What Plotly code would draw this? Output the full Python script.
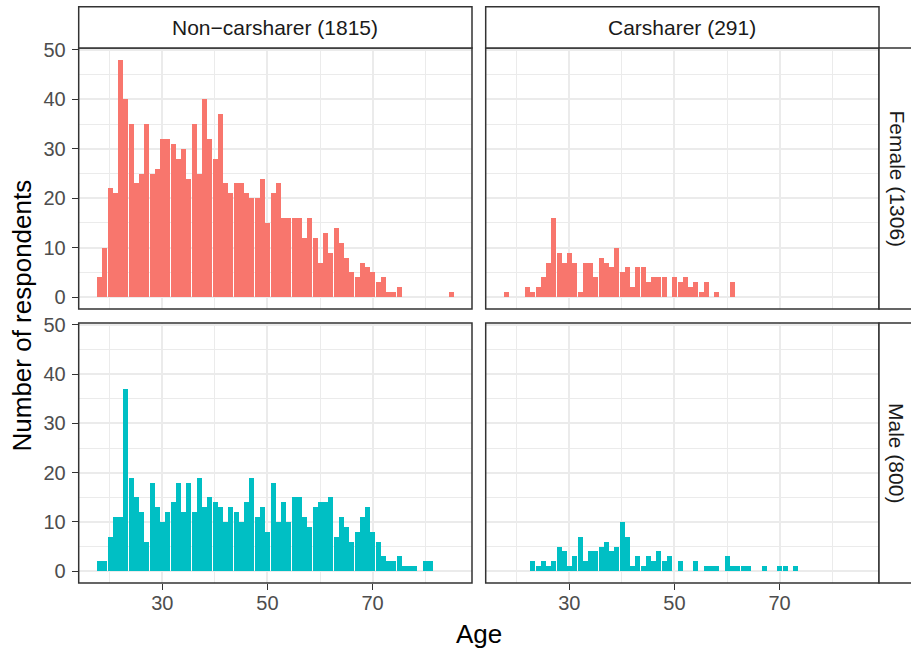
import plotly.graph_objects as go

W, H = 911, 652

# Age histograms (one-year bins): ages present and respondent counts
nc_female_age = [18, 19, 20, 21, 22, 23, 24, 25, 26, 27, 28, 29, 30, 31, 32, 33, 34, 35,
                 36, 37, 38, 39, 40, 41, 42, 43, 44, 45, 46, 47, 48, 49, 50, 51, 52, 53,
                 54, 55, 56, 57, 58, 59, 60, 61, 62, 63, 64, 65, 66, 67, 68, 69, 70, 71,
                 72, 73, 74, 75, 85]
nc_female_n = [4, 10, 22, 21, 48, 40, 35, 23, 25, 35, 25, 26, 32, 32, 31, 28, 30, 24,
               35, 25, 40, 32, 28, 37, 23, 21, 23, 23, 21, 20, 20, 24, 15, 21, 23, 16,
               16, 16, 16, 12, 16, 12, 7, 13, 9, 14, 11, 8, 5, 4, 7, 6, 5, 3,
               4, 1, 1, 2, 1]

cs_female_age = [18, 22, 23, 24, 25, 26, 27, 28, 29, 30, 31, 32, 33, 34, 35, 36, 37, 38,
                 39, 40, 41, 42, 43, 44, 45, 46, 47, 48, 50, 51, 52, 53, 54, 55, 56, 58, 61]
cs_female_n = [1, 2, 1, 2, 4, 7, 16, 9, 7, 9, 7, 1, 7, 7, 4, 8, 7, 6,
               10, 5, 6, 2, 6, 6, 3, 4, 4, 4, 4, 3, 4, 2, 3, 1, 3, 1, 3]

nc_male_age = [18, 19, 20, 21, 22, 23, 24, 25, 26, 27, 28, 29, 30, 31, 32, 33, 34, 35,
               36, 37, 38, 39, 40, 41, 42, 43, 44, 45, 46, 47, 48, 49, 50, 51, 52, 53,
               54, 55, 56, 57, 58, 59, 60, 61, 62, 63, 64, 65, 66, 67, 68, 69, 70, 71,
               72, 73, 74, 75, 76, 77, 78, 80, 81]
nc_male_n = [2, 2, 7, 11, 11, 37, 19, 15, 12, 6, 18, 13, 10, 12, 14, 18, 12, 18,
             12, 19, 13, 15, 14, 13, 10, 13, 12, 10, 14, 19, 11, 13, 8, 18, 10, 14,
             10, 15, 15, 11, 9, 13, 14, 14, 15, 7, 11, 9, 6, 8, 11, 13, 8, 6,
             3, 2, 2, 3, 1, 1, 1, 2, 2]

cs_male_age = [23, 24, 25, 26, 27, 28, 29, 30, 31, 32, 33, 34, 35, 36, 37, 38, 39, 40,
               41, 42, 43, 44, 45, 46, 47, 48, 49, 51, 54, 56, 57, 58, 60, 61, 62, 63,
               64, 67, 70, 71, 73]
cs_male_n = [2, 1, 2, 1, 2, 5, 4, 1, 3, 7, 2, 4, 4, 5, 6, 4, 5, 10,
             7, 1, 3, 1, 3, 2, 4, 2, 3, 2, 2, 1, 1, 1, 3, 1, 1, 1,
             1, 1, 1, 1, 1]

col_labels = ["Non\u2212carsharer (1815)", "Carsharer (291)"]
row_labels = ["Female (1306)", "Male (800)"]
# near-opaque fills so bar edges snap to whole pixels
row_colors = ["rgba(248,118,109,0.999)", "rgba(0,191,196,0.999)"]

x_range = [14.1, 88.9]
y_range = [-2.4, 50.4]

FONT = "Liberation Sans, Arial, Helvetica, sans-serif"
BORDER = "#333333"
GRID = "#EBEBEB"
TICK_SIZE = 20
STRIP_SIZE = 21
TITLE_SIZE = 26

# panel geometry in pixels
col_px = [(78.7, 472.0), (485.7, 879.0)]
row_px = [(48.0, 309.0), (323.0, 583.0)]
strip_top = 6.7
strip_right = 925.0

fig = go.Figure()

panels = [
    (0, 0, nc_female_age, nc_female_n),
    (0, 1, cs_female_age, cs_female_n),
    (1, 0, nc_male_age, nc_male_n),
    (1, 1, cs_male_age, cs_male_n),
]

shapes = []
annotations = []

for idx, (r, c, ages, counts) in enumerate(panels):
    k = idx + 1
    sfx = "" if k == 1 else str(k)
    fig.add_trace(go.Bar(
        x=ages, y=counts, width=0.95,
        marker=dict(color=row_colors[r], line=dict(width=0)),
        xaxis="x" + sfx, yaxis="y" + sfx, showlegend=False, hoverinfo="x+y",
    ))
    x0, x1 = col_px[c]
    y0, y1 = row_px[r]
    bottom = r == 1
    left = c == 0
    fig.layout["xaxis" + sfx] = dict(
        domain=[x0 / W, x1 / W], range=x_range, anchor="y" + sfx, automargin=False,
        tick0=10, dtick=20, showgrid=True, gridcolor=GRID, gridwidth=1.6,
        minor=dict(tick0=0, dtick=10, showgrid=True, gridcolor=GRID, gridwidth=0.8),
        zeroline=False, showline=False,
        ticks="outside" if bottom else "", ticklen=6, tickwidth=1.4, tickcolor=BORDER,
        showticklabels=bottom, tickfont=dict(size=TICK_SIZE, color="#4D4D4D", family=FONT),
        ticklabelstandoff=-4,
    )
    fig.layout["yaxis" + sfx] = dict(
        domain=[1 - y1 / H, 1 - y0 / H], range=y_range, anchor="x" + sfx, automargin=False,
        tick0=0, dtick=10, showgrid=True, gridcolor=GRID, gridwidth=1.6,
        minor=dict(tick0=0, dtick=5, showgrid=True, gridcolor=GRID, gridwidth=0.8),
        zeroline=False, showline=False,
        ticks="outside" if left else "", ticklen=6, tickwidth=1.4, tickcolor=BORDER,
        showticklabels=left, tickfont=dict(size=TICK_SIZE, color="#4D4D4D", family=FONT),
        ticklabelstandoff=2,
    )
    # panel border
    shapes.append(dict(type="rect", xref="x" + sfx + " domain", yref="y" + sfx + " domain",
                       x0=0, x1=1, y0=0, y1=1, line=dict(color=BORDER, width=1.5),
                       layer="above"))

# column strips
for c, lab in enumerate(col_labels):
    x0, x1 = col_px[c]
    shapes.append(dict(type="rect", xref="paper", yref="paper",
                       x0=x0 / W, x1=x1 / W, y0=1 - row_px[0][0] / H, y1=1 - strip_top / H,
                       fillcolor="white", line=dict(color=BORDER, width=1.5), layer="above"))
    annotations.append(dict(text=lab, xref="paper", yref="paper",
                            x=(x0 + x1) / 2 / W, y=1 - (strip_top + row_px[0][0]) / 2 / H,
                            xanchor="center", yanchor="middle", showarrow=False,
                            font=dict(size=STRIP_SIZE, color="#1A1A1A", family=FONT)))

# row strips
for r, lab in enumerate(row_labels):
    y0, y1 = row_px[r]
    shapes.append(dict(type="rect", xref="paper", yref="paper",
                       x0=col_px[1][1] / W, x1=strip_right / W, y0=1 - y1 / H, y1=1 - y0 / H,
                       fillcolor="white", line=dict(color=BORDER, width=1.5), layer="above"))
    annotations.append(dict(text=lab, xref="paper", yref="paper",
                            x=897 / W, y=1 - (y0 + y1) / 2 / H,
                            xanchor="center", yanchor="middle", showarrow=False, textangle=90,
                            font=dict(size=STRIP_SIZE, color="#1A1A1A", family=FONT)))

# axis titles
annotations.append(dict(text="Age", xref="paper", yref="paper",
                        x=(col_px[0][0] + col_px[1][1]) / 2 / W, y=1 - 634 / H,
                        xanchor="center", yanchor="middle", showarrow=False,
                        font=dict(size=TITLE_SIZE, color="black", family=FONT)))
annotations.append(dict(text="Number of respondents", xref="paper", yref="paper",
                        x=22 / W, y=1 - (row_px[0][0] + row_px[1][1]) / 2 / H,
                        xanchor="center", yanchor="middle", showarrow=False, textangle=-90,
                        font=dict(size=TITLE_SIZE, color="black", family=FONT)))

fig.update_layout(
    width=W, height=H, margin=dict(l=0, r=0, t=0, b=0),
    paper_bgcolor="white", plot_bgcolor="white",
    bargap=0, bargroupgap=0, showlegend=False,
    font=dict(family=FONT),
    shapes=shapes, annotations=annotations,
)

fig.write_html("out.html")
